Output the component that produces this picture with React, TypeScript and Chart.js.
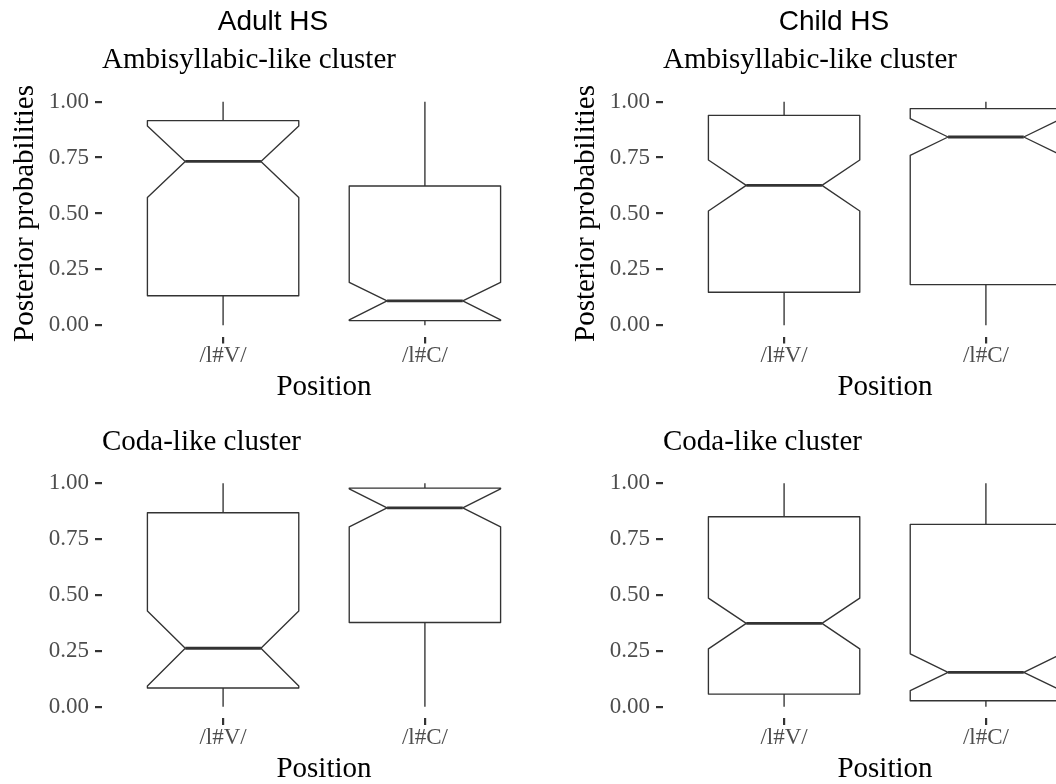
import { useEffect, useRef } from 'react';
import { Chart, registerables } from 'chart.js';

Chart.register(...registerables);

// Categories on the x axis and their numeric slots
const positions = ['/l#V/', '/l#C/'];
const positionSlots = [1, 2];
const yTickValues = [0, 0.25, 0.5, 0.75, 1];

const groupTitles = ['Adult HS', 'Child HS'];
const clusterTitles = ['Ambisyllabic-like cluster', 'Coda-like cluster'];

// Adult HS, ambisyllabic-like cluster (per position: /l#V/, /l#C/)
const adultAmbiMin = [0, 0];
const adultAmbiQ1 = [0.132, 0.021];
const adultAmbiNotchLow = [0.572, 0.024];
const adultAmbiMedian = [0.733, 0.109];
const adultAmbiNotchHigh = [0.891, 0.192];
const adultAmbiQ3 = [0.915, 0.623];
const adultAmbiMax = [1, 1];

// Child HS, ambisyllabic-like cluster
const childAmbiMin = [0, 0];
const childAmbiQ1 = [0.148, 0.182];
const childAmbiNotchLow = [0.511, 0.76];
const childAmbiMedian = [0.626, 0.842];
const childAmbiNotchHigh = [0.739, 0.924];
const childAmbiQ3 = [0.939, 0.969];
const childAmbiMax = [1, 1];

// Adult HS, coda-like cluster
const adultCodaMin = [0, 0];
const adultCodaQ1 = [0.084, 0.377];
const adultCodaNotchLow = [0.093, 0.805];
const adultCodaMedian = [0.262, 0.89];
const adultCodaNotchHigh = [0.428, 0.975];
const adultCodaQ3 = [0.868, 0.978];
const adultCodaMax = [1, 1];

// Child HS, coda-like cluster
const childCodaMin = [0, 0];
const childCodaQ1 = [0.057, 0.027];
const childCodaNotchLow = [0.259, 0.072];
const childCodaMedian = [0.373, 0.154];
const childCodaNotchHigh = [0.486, 0.237];
const childCodaQ3 = [0.85, 0.816];
const childCodaMax = [1, 1];

type Stats = {
  min: number[];
  q1: number[];
  notchLow: number[];
  median: number[];
  notchHigh: number[];
  q3: number[];
  max: number[];
};

type Frame = {
  height: number;
  titlePad: { top: number; bottom: number };
  subPad: { top: number; bottom: number };
  xAxisHeight: number;
  xTitlePadBottom: number;
};

const SERIF = '"Liberation Serif", "Times New Roman", serif';
const SANS = '"Liberation Sans", Arial, sans-serif';
const INK = '#333333';
const TICK_TEXT = '#4D4D4D';
const CANVAS_W = 561;
const Y_AXIS_W = 102;

const topFrame: Frame = {
  height: 410,
  titlePad: { top: 5.2, bottom: 0 },
  subPad: { top: 4, bottom: 12.9 },
  xAxisHeight: 73.5,
  xTitlePadBottom: 4.9,
};

const bottomFrame: Frame = {
  height: 420,
  titlePad: { top: 0, bottom: 0 },
  subPad: { top: 44.5, bottom: 12.7 },
  xAxisHeight: 82,
  xTitlePadBottom: 13.2,
};

// Draws ggplot-style notched boxes on top of invisible floating bars,
// taking the bar centre/width from the bar layout and all heights from the y scale.
function notchedBoxes(stats: Stats) {
  return {
    id: 'notchedBoxes',
    afterDatasetsDraw(chart: any) {
      const yScale = chart.scales.y;
      const ctx: CanvasRenderingContext2D = chart.ctx;
      const bars = chart.getDatasetMeta(0).data;
      const py = (v: number) => yScale.getPixelForValue(v);
      ctx.save();
      ctx.strokeStyle = INK;
      ctx.lineJoin = 'round';
      ctx.lineCap = 'butt';
      bars.forEach((bar: any, i: number) => {
        const { x, width } = bar.getProps(['x', 'width'], true);
        const l = x - width / 2;
        const r = x + width / 2;
        const inset = width / 4;
        const yMin = py(stats.min[i]);
        const yQ1 = py(stats.q1[i]);
        const yNL = py(stats.notchLow[i]);
        const yMed = py(stats.median[i]);
        const yNH = py(stats.notchHigh[i]);
        const yQ3 = py(stats.q3[i]);
        const yMax = py(stats.max[i]);

        // whiskers
        ctx.lineWidth = 1.35;
        ctx.beginPath();
        ctx.moveTo(x, yQ3);
        ctx.lineTo(x, yMax);
        ctx.moveTo(x, yQ1);
        ctx.lineTo(x, yMin);
        ctx.stroke();

        // notched box
        ctx.beginPath();
        ctx.moveTo(l, yQ3);
        ctx.lineTo(l, yNH);
        ctx.lineTo(l + inset, yMed);
        ctx.lineTo(l, yNL);
        ctx.lineTo(l, yQ1);
        ctx.lineTo(r, yQ1);
        ctx.lineTo(r, yNL);
        ctx.lineTo(r - inset, yMed);
        ctx.lineTo(r, yNH);
        ctx.lineTo(r, yQ3);
        ctx.closePath();
        ctx.fillStyle = '#FFFFFF';
        ctx.fill();
        ctx.stroke();

        // median
        ctx.lineWidth = 2.8;
        ctx.beginPath();
        ctx.moveTo(l + inset, yMed);
        ctx.lineTo(r - inset, yMed);
        ctx.stroke();
      });
      ctx.restore();
    },
  };
}

type PanelProps = {
  stats: Stats;
  group?: string;
  cluster: string;
  showYTitle: boolean;
  left: number;
  top: number;
  frame: Frame;
};

function Panel({ stats, group, cluster, showYTitle, left, top, frame }: PanelProps) {
  const ref = useRef<HTMLCanvasElement | null>(null);

  useEffect(() => {
    if (!ref.current) return;
    const chart = new Chart(ref.current, {
      type: 'bar',
      data: {
        datasets: [
          {
            data: positionSlots.map((slot, i) => ({ x: slot, y: [stats.q1[i], stats.q3[i]] })) as any,
            backgroundColor: 'rgba(0,0,0,0)',
            borderWidth: 0,
            barPercentage: 0.75,
            categoryPercentage: 1,
          },
        ],
      },
      options: {
        responsive: false,
        animation: false,
        events: [],
        layout: { padding: { left: 0, right: 15, top: 0, bottom: 0 } },
        plugins: {
          legend: { display: false },
          tooltip: { enabled: false },
          title: {
            display: !!group,
            text: group ?? '',
            color: '#000000',
            font: { family: SANS, size: 28, weight: 'normal', lineHeight: 1.2 },
            padding: frame.titlePad,
          },
          subtitle: {
            display: true,
            text: cluster,
            align: 'start',
            fullSize: false,
            color: '#000000',
            font: { family: SERIF, size: 29, weight: 'normal', lineHeight: 1.2 },
            padding: frame.subPad,
          },
        },
        scales: {
          x: {
            type: 'linear',
            min: 0.4,
            max: 2.6,
            offset: false,
            afterBuildTicks: (s: any) => {
              s.ticks = positionSlots.map((v) => ({ value: v }));
            },
            afterFit: (s: any) => {
              s.height = frame.xAxisHeight;
              s.paddingLeft = 0;
              s.paddingRight = 0;
            },
            ticks: {
              callback: (v: any) => positions[positionSlots.indexOf(Number(v))] ?? '',
              color: TICK_TEXT,
              font: { family: SERIF, size: 23, lineHeight: 1 },
              padding: 1,
              maxRotation: 0,
              autoSkip: false,
            },
            grid: {
              display: true,
              drawOnChartArea: false,
              drawTicks: true,
              tickLength: 7,
              color: INK,
              lineWidth: 2.2,
              offset: false,
            },
            border: { display: false },
            title: {
              display: true,
              text: 'Position',
              color: '#000000',
              font: { family: SERIF, size: 29, lineHeight: 1.2 },
              padding: { top: 0, bottom: frame.xTitlePadBottom },
            },
          },
          y: {
            type: 'linear',
            min: -0.05,
            max: 1.05,
            afterBuildTicks: (s: any) => {
              s.ticks = yTickValues.map((v) => ({ value: v }));
            },
            afterFit: (s: any) => {
              s.width = Y_AXIS_W;
              s.paddingTop = 0;
              s.paddingBottom = 0;
            },
            ticks: {
              callback: (v: any) => Number(v).toFixed(2),
              color: TICK_TEXT,
              font: { family: SERIF, size: 23, lineHeight: 1 },
              padding: 6,
              autoSkip: false,
            },
            grid: {
              display: true,
              drawOnChartArea: false,
              drawTicks: true,
              tickLength: 7,
              color: INK,
              lineWidth: 2.2,
            },
            border: { display: false },
            title: {
              display: showYTitle,
              text: 'Posterior probabilities',
              color: '#000000',
              font: { family: SERIF, size: 29, lineHeight: 1.2 },
              padding: { top: 7.6, bottom: 0 },
            },
          },
        },
      } as any,
      plugins: [notchedBoxes(stats)],
    });
    return () => chart.destroy();
  }, [stats, group, cluster, showYTitle, frame]);

  return (
    <canvas
      ref={ref}
      width={CANVAS_W}
      height={frame.height}
      style={{ position: 'absolute', left, top, width: CANVAS_W, height: frame.height }}
    />
  );
}

const adultAmbi: Stats = {
  min: adultAmbiMin, q1: adultAmbiQ1, notchLow: adultAmbiNotchLow, median: adultAmbiMedian,
  notchHigh: adultAmbiNotchHigh, q3: adultAmbiQ3, max: adultAmbiMax,
};
const childAmbi: Stats = {
  min: childAmbiMin, q1: childAmbiQ1, notchLow: childAmbiNotchLow, median: childAmbiMedian,
  notchHigh: childAmbiNotchHigh, q3: childAmbiQ3, max: childAmbiMax,
};
const adultCoda: Stats = {
  min: adultCodaMin, q1: adultCodaQ1, notchLow: adultCodaNotchLow, median: adultCodaMedian,
  notchHigh: adultCodaNotchHigh, q3: adultCodaQ3, max: adultCodaMax,
};
const childCoda: Stats = {
  min: childCodaMin, q1: childCodaQ1, notchLow: childCodaNotchLow, median: childCodaMedian,
  notchHigh: childCodaNotchHigh, q3: childCodaQ3, max: childCodaMax,
};

export default function App() {
  return (
    <div
      style={{
        position: 'fixed',
        left: 0,
        top: 0,
        width: 1056,
        height: 784,
        overflow: 'hidden',
        background: '#ffffff',
      }}
    >
      <Panel stats={adultAmbi} group={groupTitles[0]} cluster={clusterTitles[0]} showYTitle left={0} top={0} frame={topFrame} />
      <Panel stats={childAmbi} group={groupTitles[1]} cluster={clusterTitles[0]} showYTitle left={CANVAS_W} top={0} frame={topFrame} />
      <Panel stats={adultCoda} cluster={clusterTitles[1]} showYTitle={false} left={0} top={380} frame={bottomFrame} />
      <Panel stats={childCoda} cluster={clusterTitles[1]} showYTitle={false} left={CANVAS_W} top={380} frame={bottomFrame} />
    </div>
  );
}
